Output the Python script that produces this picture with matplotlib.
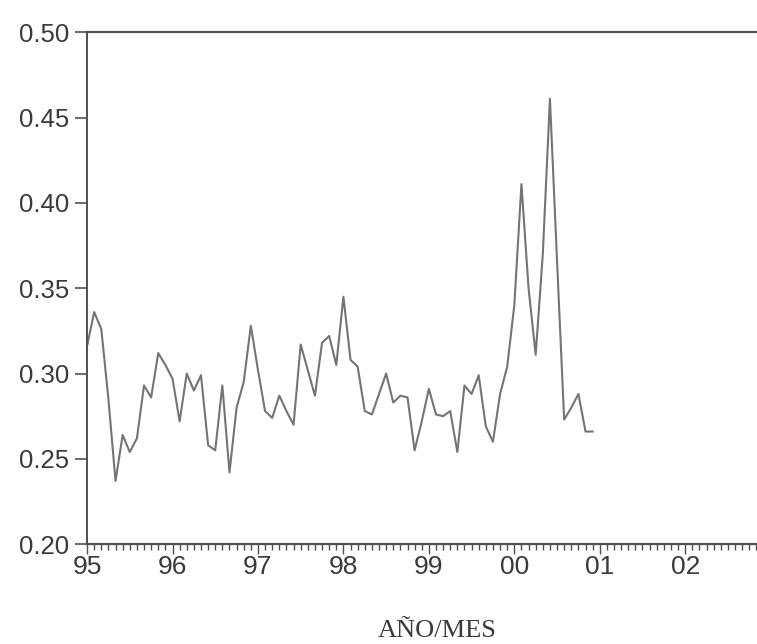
"""
Serie mensual 1995-2000 (AÑO/MES) — recreacion del grafico de lineas.
Guarda out.png.
"""

import numpy as np
import matplotlib
matplotlib.use("Agg")
import matplotlib.pyplot as plt
from matplotlib.ticker import MultipleLocator, FixedLocator

# ----------------------------------------------------------------------
# Datos (valores mensuales, ene-1995 .. dic-2000)
# ----------------------------------------------------------------------
START_YEAR = 1995

VALUES_95 = [0.316, 0.336, 0.326, 0.285, 0.237, 0.264, 0.254, 0.262,
             0.293, 0.286, 0.312, 0.305]
VALUES_96 = [0.297, 0.272, 0.300, 0.290, 0.299, 0.258, 0.255, 0.293,
             0.242, 0.280, 0.295, 0.328]
VALUES_97 = [0.302, 0.278, 0.274, 0.287, 0.278, 0.270, 0.317, 0.302,
             0.287, 0.318, 0.322, 0.305]
VALUES_98 = [0.345, 0.308, 0.304, 0.278, 0.276, 0.288, 0.300, 0.283,
             0.287, 0.286, 0.255, 0.272]
VALUES_99 = [0.291, 0.276, 0.275, 0.278, 0.254, 0.293, 0.288, 0.299,
             0.269, 0.260, 0.288, 0.304]
VALUES_00 = [0.340, 0.411, 0.350, 0.311, 0.370, 0.461, 0.366, 0.273,
             0.280, 0.288, 0.266, 0.266]

YEAR_TICKS  = [1995, 1996, 1997, 1998, 1999, 2000, 2001, 2002]
YEAR_LABELS = ["95", "96", "97", "98", "99", "00", "01", "02"]
Y_TICKS     = [0.20, 0.25, 0.30, 0.35, 0.40, 0.45, 0.50]

X_LABEL = "AÑO/MES"

# Estilo
LINE_GRAY = "#747474"
AXIS_GRAY = "#505050"
TEXT_GRAY = "#3a3a3a"

# ----------------------------------------------------------------------
# Figura
# ----------------------------------------------------------------------
values = np.array(VALUES_95 + VALUES_96 + VALUES_97 + VALUES_98
                  + VALUES_99 + VALUES_00)
months = START_YEAR + np.arange(len(values)) / 12.0

fig = plt.figure(figsize=(7.57, 6.44), dpi=100)
fig.patch.set_facecolor("white")
ax = fig.add_axes([0.115, 0.155, 0.885, 0.795])

ax.plot(months, values, color=LINE_GRAY, linewidth=1.5)

ax.set_xlim(1995, 2002.84)
ax.set_ylim(0.20, 0.50)

# ejes
ax.spines["right"].set_visible(False)
for side in ("left", "bottom", "top"):
    ax.spines[side].set_color(AXIS_GRAY)
ax.spines["left"].set_linewidth(1.4)
ax.spines["bottom"].set_linewidth(1.6)
ax.spines["top"].set_linewidth(1.6)

ax.xaxis.set_major_locator(FixedLocator(YEAR_TICKS))
ax.set_xticklabels(YEAR_LABELS)
ax.xaxis.set_minor_locator(MultipleLocator(1 / 12))
ax.yaxis.set_major_locator(FixedLocator(Y_TICKS))
ax.set_yticklabels([f"{t:.2f}" for t in Y_TICKS])

ax.tick_params(axis="x", which="major", direction="out", length=7,
               width=1.0, color=AXIS_GRAY, labelsize=19,
               labelcolor=TEXT_GRAY, pad=1, top=False)
ax.tick_params(axis="x", which="minor", direction="out", length=4.5,
               width=1.0, color=AXIS_GRAY, top=False)
ax.tick_params(axis="y", which="major", direction="out", length=9,
               width=1.2, color=AXIS_GRAY, labelsize=18.5,
               labelcolor=TEXT_GRAY, pad=4, right=False)

for lab in ax.get_xticklabels() + ax.get_yticklabels():
    lab.set_family("Liberation Sans")

fig.text(0.578, 0.011, X_LABEL, ha="center", va="baseline",
         fontsize=19, color=TEXT_GRAY, family="Liberation Serif")

fig.savefig("out.png", dpi=100, facecolor="white")
